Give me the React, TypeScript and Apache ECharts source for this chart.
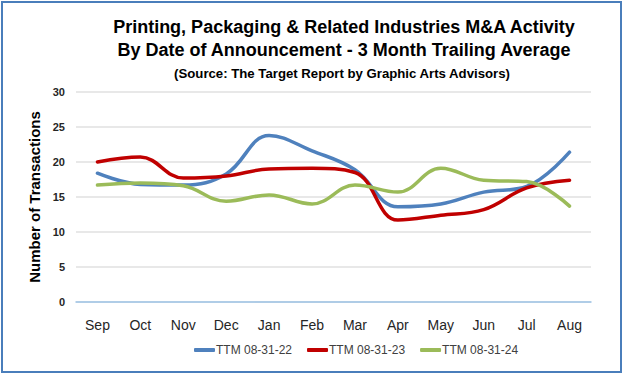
import React, { useEffect, useRef } from "react";
import * as echarts from "echarts";

const titleLines = [
  "Printing, Packaging & Related Industries M&A Activity",
  "By Date of Announcement - 3 Month Trailing Average",
];
const subtitle = "(Source: The Target Report by Graphic Arts Advisors)";
const months = ["Sep", "Oct", "Nov", "Dec", "Jan", "Feb", "Mar", "Apr", "May", "Jun", "Jul", "Aug"];
const ttm22 = [18.4, 16.8, 16.7, 18.3, 23.8, 21.6, 18.9, 13.6, 14.0, 15.7, 16.5, 21.4];
const ttm23 = [20.0, 20.7, 17.7, 18.0, 19.0, 19.1, 18.5, 11.7, 12.4, 13.2, 16.3, 17.4];
const ttm24 = [16.7, 17.0, 16.6, 14.4, 15.3, 14.0, 16.7, 15.7, 19.1, 17.4, 17.2, 13.7];
const seriesNames = ["TTM 08-31-22", "TTM 08-31-23", "TTM 08-31-24"];
const seriesColors = ["#4F81BD", "#C00000", "#9BBB59"];
const yTicks = { min: 0, max: 30, interval: 5 };

export default function App() {
  const ref = useRef<HTMLDivElement>(null);
  useEffect(() => {
    if (!ref.current) return;
    const chart = echarts.init(ref.current, null, { renderer: "svg" });
    const font = "'Liberation Sans', Arial, sans-serif";
    const data = [ttm22, ttm23, ttm24];
    chart.setOption({
      animation: false,
      backgroundColor: "#ffffff",
      textStyle: { fontFamily: font },
      graphic: [
        {
          type: "rect",
          shape: { x: 2, y: 2, width: 619, height: 370 },
          style: { fill: "none", stroke: "#4A7EBB", lineWidth: 2 },
          silent: true,
        },
        {
          type: "text",
          x: 344,
          y: 27,
          style: {
            text: titleLines[0],
            fontSize: 18,
            fontWeight: "bold",
            fontFamily: font,
            fill: "#000000",
            align: "center",
            verticalAlign: "middle",
          },
        },
        {
          type: "text",
          x: 344,
          y: 50,
          style: {
            text: titleLines[1],
            fontSize: 18,
            fontWeight: "bold",
            fontFamily: font,
            fill: "#000000",
            align: "center",
            verticalAlign: "middle",
          },
        },
        {
          type: "text",
          x: 342,
          y: 73,
          style: {
            text: subtitle,
            fontSize: 13.2,
            fontWeight: "bold",
            fontFamily: font,
            fill: "#000000",
            align: "center",
            verticalAlign: "middle",
          },
        },
      ],
      grid: { left: 76, right: 33, top: 92, bottom: 73 },
      legend: {
        top: 339,
        left: 189,
        data: seriesNames.map((n) => ({ name: n, icon: "roundRect" })),
        itemWidth: 21,
        itemHeight: 4,
        itemGap: 15,
        textStyle: { fontSize: 12, color: "#404040", fontFamily: font, padding: [0, 0, 0, -4] },
      },
      xAxis: {
        type: "category",
        data: months,
        boundaryGap: true,
        axisLine: { lineStyle: { color: "#9DC3E6", width: 1.5 } },
        axisTick: { show: false },
        axisLabel: { fontSize: 14, color: "#262626", margin: 16, fontFamily: font },
      },
      yAxis: {
        type: "value",
        min: yTicks.min,
        max: yTicks.max,
        interval: yTicks.interval,
        name: "Number of Transactions",
        nameLocation: "middle",
        nameGap: 31,
        nameTextStyle: { fontSize: 15, fontWeight: "bold", color: "#000000", fontFamily: font },
        axisLine: { show: false },
        axisTick: { show: false },
        axisLabel: { fontSize: 11, fontWeight: "bold", color: "#262626", margin: 11, fontFamily: font },
        splitLine: { lineStyle: { color: "#E0E0E0", width: 1.5 } },
      },
      series: seriesNames.map((name, i) => ({
        name,
        type: "line",
        data: data[i],
        smooth: 0.4,
        symbol: "none",
        color: seriesColors[i],
        lineStyle: { width: 3.5, color: seriesColors[i], cap: "round" },
      })),
    });
    return () => chart.dispose();
  }, []);
  return (
    <div
      ref={ref}
      style={{ position: "fixed", left: 0, top: 0, width: 624, height: 375 }}
    />
  );
}
